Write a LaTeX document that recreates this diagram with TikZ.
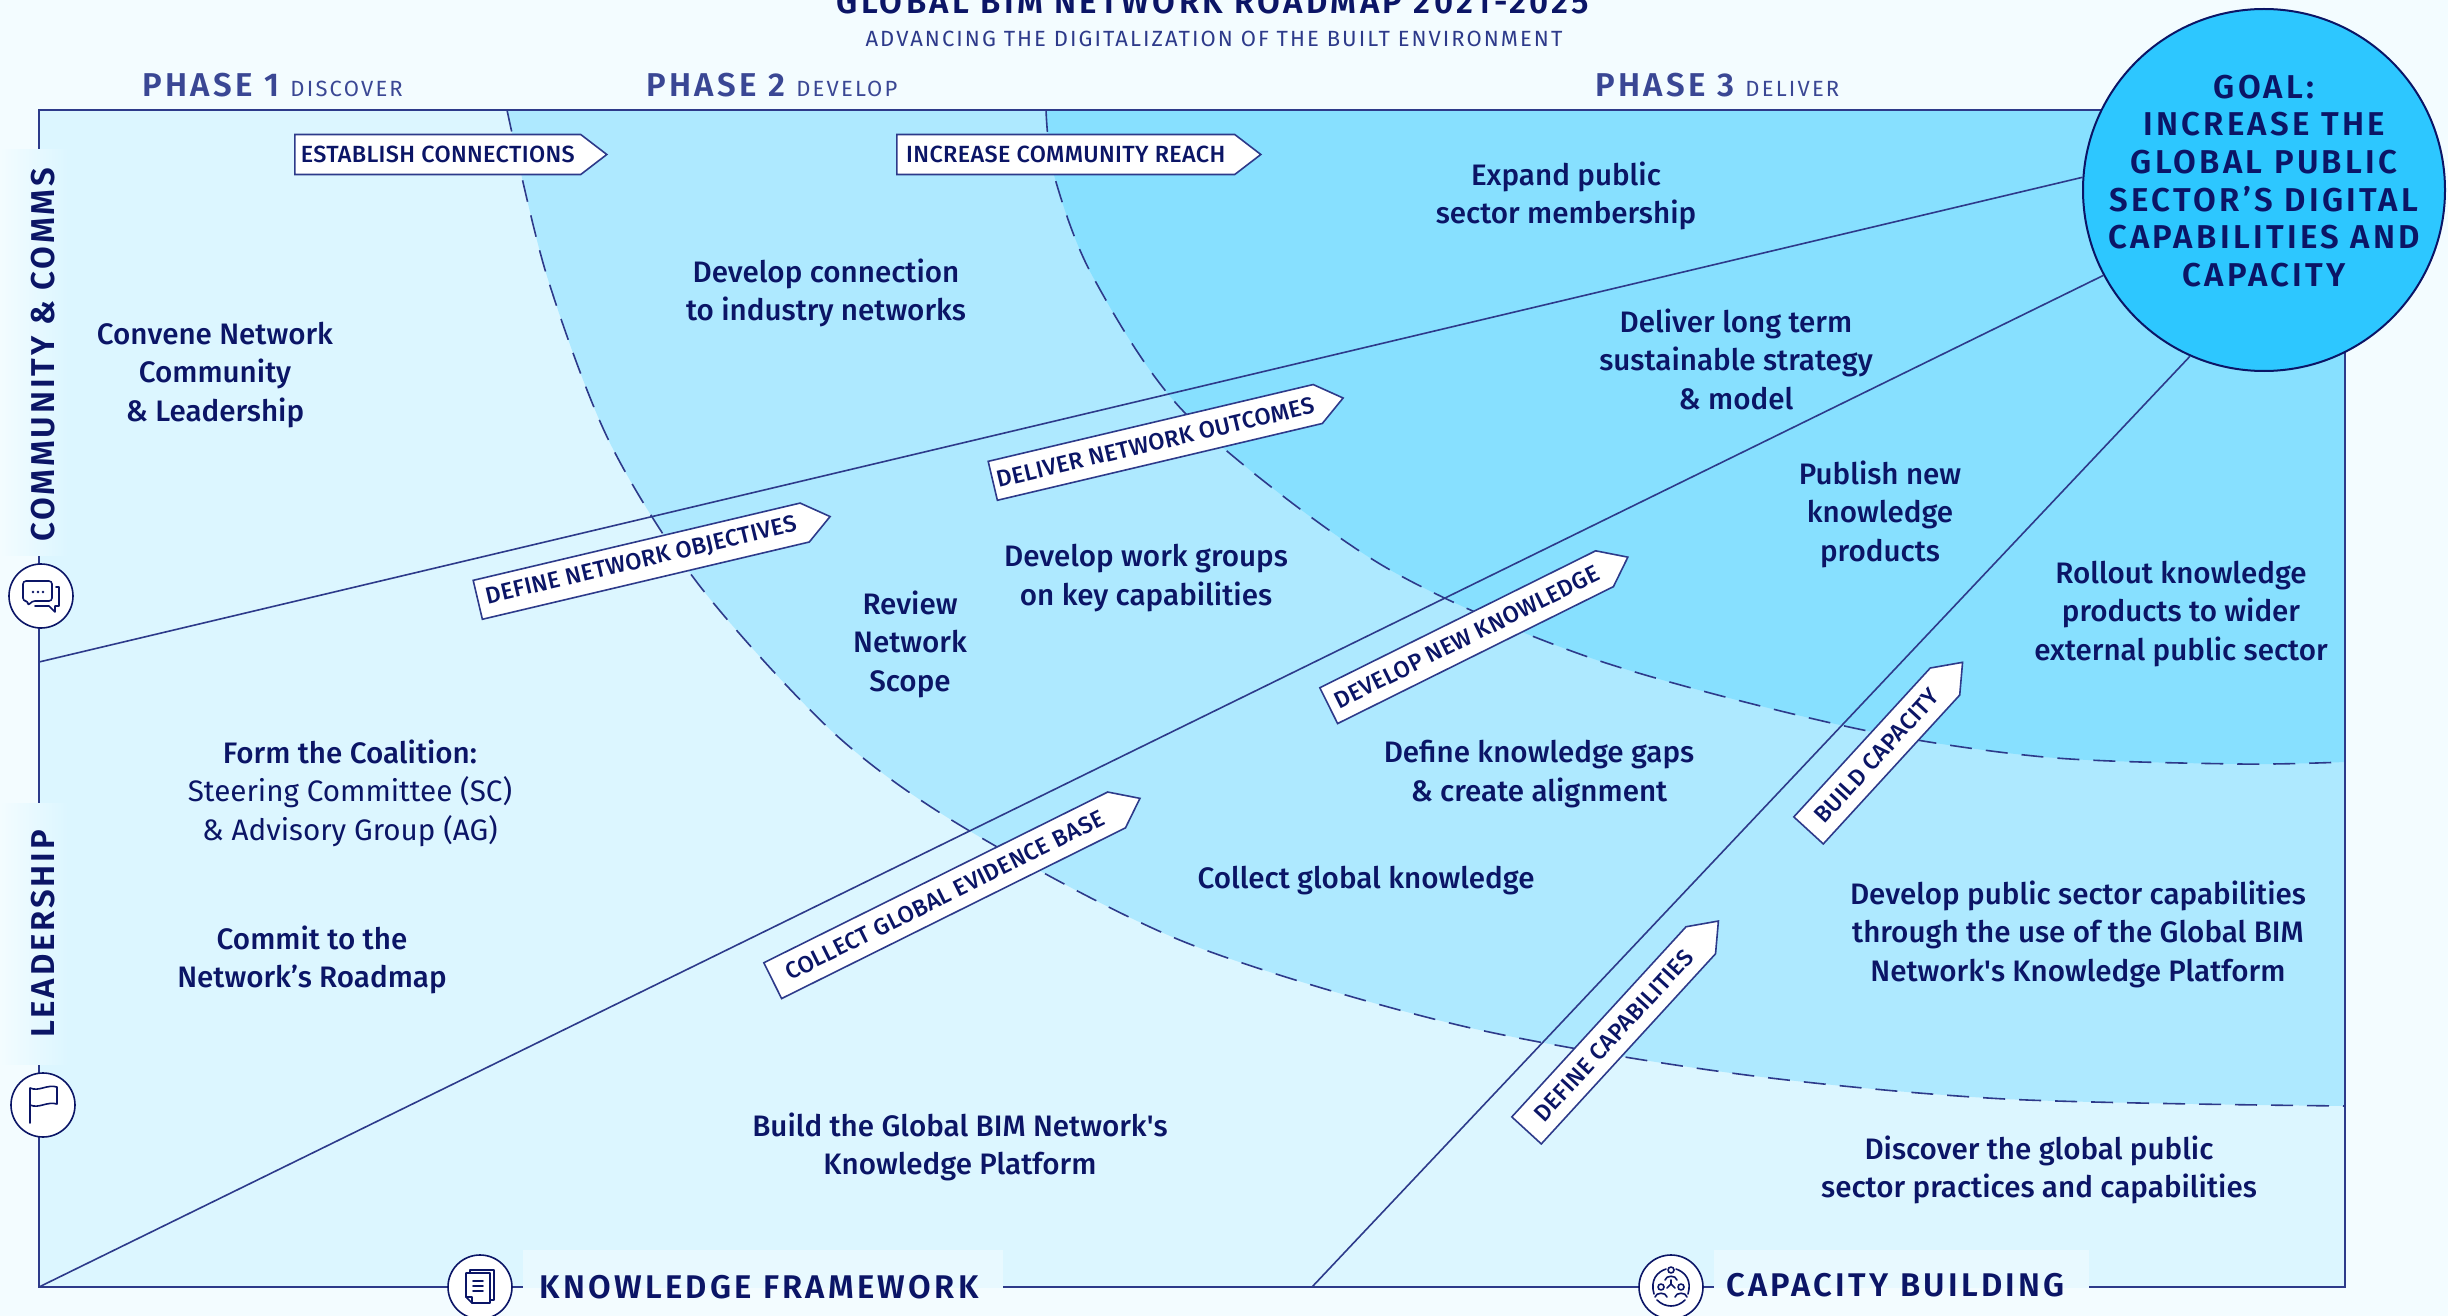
\documentclass[tikz,border=0pt]{standalone}
\usepackage{fontspec}
\setmainfont{Fira Sans Medium}
\setsansfont{Fira Sans}
\newfontfamily\titlefont[LetterSpace=10.2]{Fira Sans SemiBold}
\newfontfamily\subfont[LetterSpace=9.3]{Fira Sans}
\newfontfamily\phasefont[LetterSpace=10]{Fira Sans SemiBold}
\newfontfamily\phaselight[LetterSpace=10]{Fira Sans}
\newfontfamily\sidefont[LetterSpace=8.5]{Fira Sans SemiBold}
\newfontfamily\tagfont[LetterSpace=1.5]{Fira Sans Medium}
\usepackage{xcolor}
\definecolor{mypage}{HTML}{F3FCFF}
\definecolor{myzon1}{HTML}{DCF6FF}
\definecolor{myzon2}{HTML}{AEE9FF}
\definecolor{myzon3}{HTML}{87E0FF}
\definecolor{mygoal}{HTML}{2DC7FF}
\definecolor{mynavy}{HTML}{0B1566}
\definecolor{myline}{HTML}{2D3A8A}
\definecolor{myphas}{HTML}{3A4794}
\usetikzlibrary{positioning}
\usetikzlibrary{shapes.symbols}
\tikzstyle{body} = [text=mynavy, yshift=-1pt, font=\fontsize{14.8}{19.25}\selectfont]
\tikzstyle{tag} = [signal, signal to=east, signal pointer angle=75, anchor=west, minimum height=20pt, inner xsep=2pt, inner ysep=1pt, draw=myline, line width=0.8pt, fill=white, text=mynavy, font=\fontsize{11.7}{13}\tagfont]
\tikzstyle{axis} = [text=mynavy, font=\fontsize{16.4}{18}\phasefont]
\tikzstyle{side} = [text=mynavy, rotate=90, font=\fontsize{16.5}{18}\sidefont]
\tikzstyle{phase} = [anchor=base west, inner sep=0pt, text=myphas, font=\fontsize{16.5}{18}\phasefont]
\tikzstyle{ring} = [circle, minimum size=32pt, inner sep=0pt, draw=mynavy, line width=0.8pt, fill=white]
\tikzstyle{spoke} = [myline, line width=0.8pt]
\tikzstyle{rim} = [myline, line width=1pt]
\tikzstyle{reach} = [myline, line width=0.8pt, dash pattern=on 11pt off 7pt]
\tikzstyle{glyph} = [mynavy, line width=0.8pt, line cap=round, line join=round]
\tikzstyle{fade} = [left color=mypage, right color=myzon1]
\newcommand{\arcmid}{plot[smooth] coordinates {(507,110) (546,273) (609,441) (699,585) (835,734) (968,830) (1187,943) (1458,1025) (1731,1073) (2005,1099) (2345,1106)}}
\newcommand{\arcnear}{plot[smooth] coordinates {(1046,110) (1054,175) (1093,277) (1187,415) (1380,564) (1591,658) (1849,727) (2044,757) (2239,764) (2345,762)}}
\begin{document}
\begin{tikzpicture}[align=center,x=0.5pt,y=-0.5pt]
	\useasboundingbox (0,0) rectangle (2448,1316);
	\fill [mypage] (0,0) rectangle (2448,1316);
	\coordinate (nw) at (39,110);
	\coordinate (ne) at (2345,110);
	\coordinate (se) at (2345,1287);
	\coordinate (sw) at (39,1287);
	\coordinate (westend) at (39,662);
	\coordinate (southend) at (1312,1287);
	\fill [myzon1] (nw) rectangle (se);
	\fill [myzon2] \arcmid -- (ne) -- cycle;
	\fill [myzon3] \arcnear -- (ne) -- cycle;
	\draw [reach] \arcmid;
	\draw [reach] \arcnear;
	\draw [rim] (nw) rectangle (se);
	\node (goal)[circle, minimum size=181pt, inner sep=0pt, draw=mynavy, line width=1pt, fill=mygoal] at (2264,190){};
	\draw [spoke] (westend) -- (goal.176.2);
	\draw [spoke] (sw) -- (goal.208.7);
	\draw [spoke] (southend) -- (goal.246.9);
	\fill [fade] (0,150) rectangle (68,555);
	\fill [fade] (0,803) rectangle (68,1064);
	\fill [mypage!50!myzon1] (523,1250) rectangle (1003,1316);
	\fill [mypage!50!myzon1] (1714,1250) rectangle (2089,1316);
	\fill [mypage] (523,1288) rectangle (1003,1316);
	\fill [mypage] (1714,1288) rectangle (2089,1316);
	\node (goaltext)[text=mynavy, font=\fontsize{16.5}{18.85}\phasefont] at (2264,181){GOAL:\\INCREASE THE\\GLOBAL PUBLIC\\SECTOR’S DIGITAL\\CAPABILITIES AND\\CAPACITY};
	\node (title)[anchor=base, inner sep=0pt, text=mynavy, font=\fontsize{16.5}{18}\titlefont] at (1213,14){GLOBAL BIM NETWORK ROADMAP 2021-2025};
	\node (subtitle)[anchor=base, inner sep=0pt, text=myline, font=\fontsize{11}{13}\subfont] at (1214,47){ADVANCING THE DIGITALIZATION OF THE BUILT ENVIRONMENT};
	\node (phase1)[phase] at (142,97){PHASE 1 {\phaselight\fontsize{11}{13}\selectfont DISCOVER}};
	\node (phase2)[phase] at (646,97){PHASE 2 {\phaselight\fontsize{11}{13}\selectfont DEVELOP}};
	\node (phase3)[phase] at (1595,97){PHASE 3 {\phaselight\fontsize{11}{13}\selectfont DELIVER}};
	\node (convene)[body] at (215,373){Convene Network\\Community\\\& Leadership};
	\node (connect)[body] at (826,291){Develop connection\\to industry networks};
	\node (expand)[body] at (1566,194){Expand public\\sector membership};
	\node (longterm)[body] at (1736,357){Deliver long term\\sustainable strategy\\\& model};
	\node (publish)[body] at (1880,512){Publish new\\knowledge\\products};
	\node (rollout)[body] at (2181,612){Rollout knowledge\\products to wider\\external public sector};
	\node (groups)[body] at (1146,576){Develop work groups\\on key capabilities};
	\node (scope)[body] at (910,642){Review\\Network\\Scope};
	\node (gaps)[body] at (1539,772){Define knowledge gaps\\\& create alignment};
	\node (collect)[body] at (1366,879){Collect global knowledge};
	\node (coalition)[body] at (350,791){Form the Coalition:\\{\sffamily Steering Committee (SC)}\\{\sffamily\& Advisory Group (AG)}};
	\node (commit)[body] at (312,958){Commit to the\\Network’s Roadmap};
	\node (platform)[body] at (960,1145){Build the Global BIM Network\textquotesingle s\\Knowledge Platform};
	\node (capab)[body] at (2078,932){Develop public sector capabilities\\through the use of the Global BIM\\Network\textquotesingle s Knowledge Platform};
	\node (practices)[body] at (2039,1168){Discover the global public\\sector practices and capabilities};
	\node (establish)[tag, minimum width=156pt] at (294,154.5){ESTABLISH CONNECTIONS};
	\node (increase)[tag, minimum width=182pt] at (896,154.5){INCREASE COMMUNITY REACH};
	\node (objectives)[tag, minimum width=181pt, rotate=13.3] at (477,600){DEFINE NETWORK OBJECTIVES};
	\node (outcomes)[tag, minimum width=180pt, rotate=13.3] at (992,481){DELIVER NETWORK OUTCOMES};
	\node (evidence)[tag, minimum width=205pt, rotate=26.4] at (772,981){COLLECT GLOBAL EVIDENCE BASE};
	\node (newknow)[tag, minimum width=167pt, rotate=26.4] at (1328,706){DEVELOP NEW KNOWLEDGE};
	\node (buildcap)[tag, minimum width=114pt, rotate=47.5] at (1808,831){BUILD CAPACITY};
	\node (definecap)[tag, minimum width=142pt, rotate=47.5] at (1526,1131){DEFINE CAPABILITIES};
	\node (iconcomms)[ring] at (41,596){};
	\node (iconflag)[ring] at (43,1105){};
	\node (icondocs)[ring] at (480,1287){};
	\node (iconteam)[ring] at (1671,1287){};
	\node (labelcomms)[side] at (43,355){COMMUNITY \& COMMS};
	\node (labellead)[side] at (43,934){LEADERSHIP};
	\node (labelknow)[axis, anchor=west, inner sep=0pt] at (539,1287){KNOWLEDGE FRAMEWORK};
	\node (labelbuild)[axis, anchor=west, inner sep=0pt] at (1726,1285){CAPACITY BUILDING};
	\begin{scope}[shift={(iconcomms.center)}, glyph]
		\draw [rounded corners=1.5pt] (-18,-15) -- (11,-15) -- (11,5) -- (-9,5) -- (-13,10) -- (-13,5) -- (-18,5) -- cycle;
		\draw (-6,10) -- (8,10) -- (14,16) -- (14,10) -- (18,10) -- (18,-9) -- (15,-9);
		\fill (-8,-4) circle (0.7pt) (-3,-4) circle (0.7pt) (2,-4) circle (0.7pt);
	\end{scope}
	\begin{scope}[shift={(iconflag.center)}, glyph]
		\draw (-13,18) -- (-13,-17) .. controls (-4,-13) and (4,-21) .. (14,-18) -- (14,-1) .. controls (4,-4) and (-4,4) .. (-13,0);
	\end{scope}
	\begin{scope}[shift={(icondocs.center)}, glyph]
		\draw (-14,-14) -- (10,-14) -- (10,16) -- (-8,16) -- (-14,10) -- cycle;
		\draw (-14,10) -- (-8,10) -- (-8,16);
		\draw (-10,-14) -- (-10,-17) -- (14,-17) -- (14,13) -- (10,13);
		\draw (-7,-6) -- (3,-6) (-7,-1) -- (3,-1) (-7,4) -- (3,4);
	\end{scope}
	\begin{scope}[shift={(iconteam.center)}, glyph]
		\draw (0,-17) circle (1.5pt) (-10,0) circle (1.5pt) (10,0) circle (1.5pt);
		\draw (-6,-7) .. controls (-5,-12) and (5,-12) .. (6,-7);
		\draw (-16,10) .. controls (-15,5) and (-5,5) .. (-4,10);
		\draw (4,10) .. controls (5,5) and (15,5) .. (16,10);
		\draw (0,-7) -- (0,-3) -- (-4,1) (0,-3) -- (4,1);
		\draw (-5,-18) .. controls (-14,-15) and (-21,-7) .. (-17,7);
		\draw (5,-18) .. controls (14,-15) and (21,-7) .. (17,7);
		\draw (-14,13) .. controls (-6,21) and (6,21) .. (14,13);
	\end{scope}
\end{tikzpicture}
\end{document}
